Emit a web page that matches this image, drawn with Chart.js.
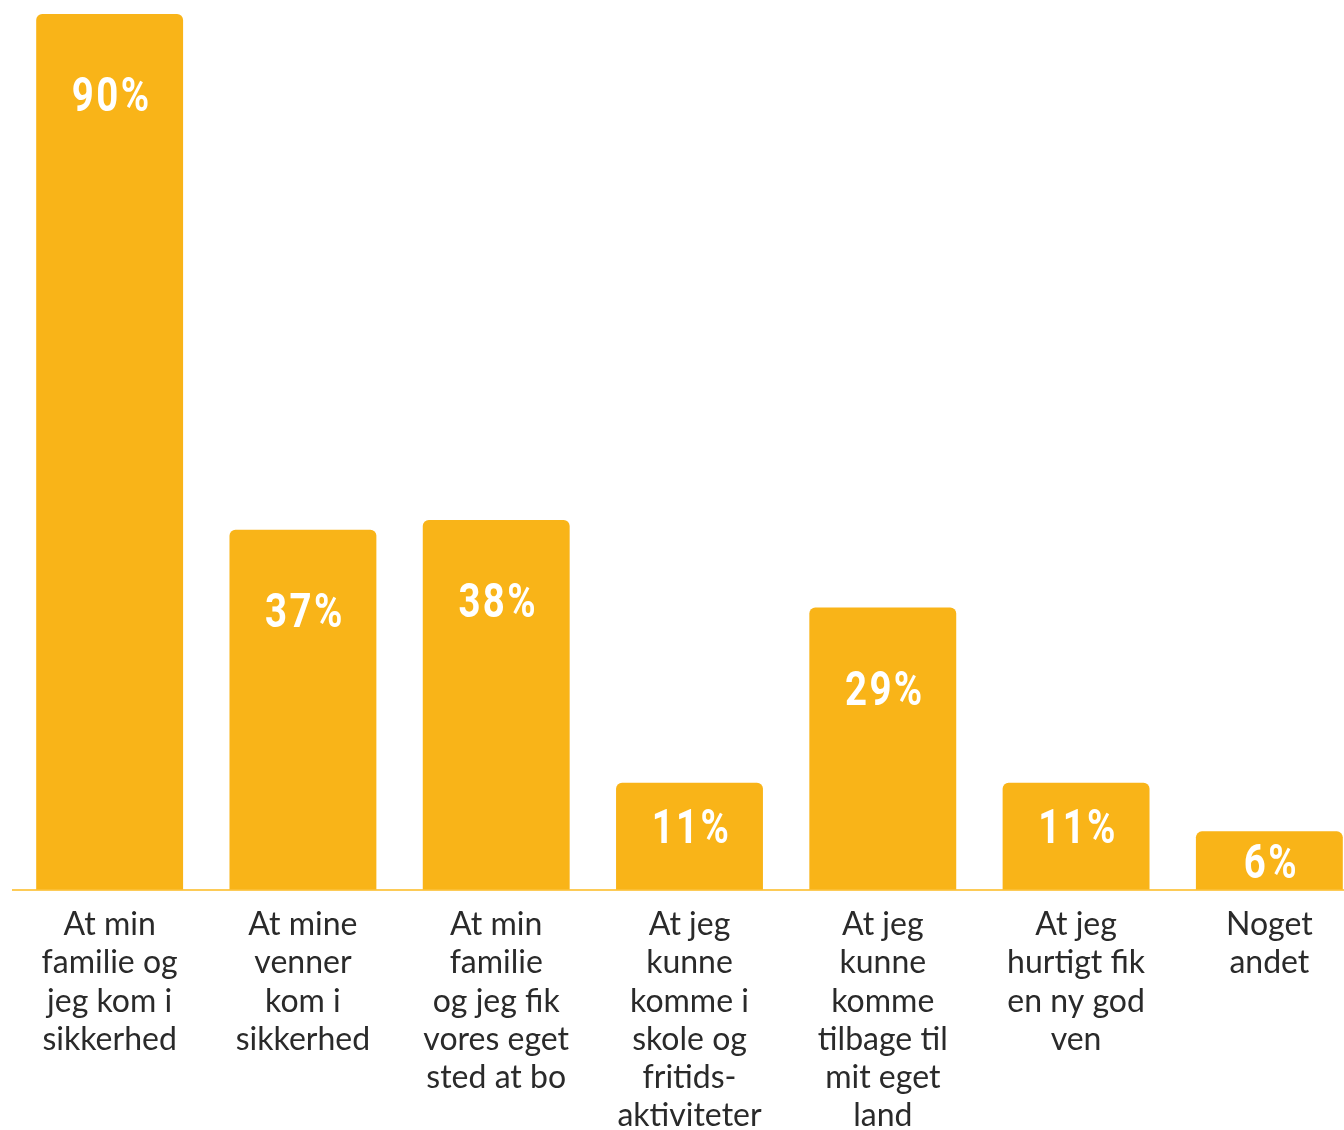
<!DOCTYPE html>
<html>
<head>
<meta charset="utf-8">
<script src="https://cdn.jsdelivr.net/npm/chart.js@4.4.1/dist/chart.umd.min.js"></script>
<style>
  html, body { margin: 0; padding: 0; background: #fff; overflow: hidden; }
  #wrap { width: 1366px; height: 1151px; position: relative; }
</style>
</head>
<body>
<div id="wrap"><canvas id="grafico"></canvas></div>
<script>
const kategorier = [
    ['At min', 'familie og', 'jeg kom i', 'sikkerhed'],
    ['At mine', 'venner', 'kom i', 'sikkerhed'],
    ['At min', 'familie', 'og jeg fik', 'vores eget', 'sted at bo'],
    ['At jeg', 'kunne', 'komme i', 'skole og', 'fritids-', 'aktiviteter'],
    ['At jeg', 'kunne', 'komme', 'tilbage til', 'mit eget', 'land'],
    ['At jeg', 'hurtigt fik', 'en ny god', 'ven'],
    ['Noget', 'andet']
];
const procenter = [90, 37, 38, 11, 29, 11, 6];

const gul = '#F9B418';
const linjeGul = '#FDCB57';

// skriver procenten inde i hver søjle (smal, fed skrift)
const procentTekst = {
    id: 'procentTekst',
    afterDatasetsDraw(chart) {
        const ctx = chart.ctx;
        const meta = chart.getDatasetMeta(0);
        ctx.save();
        ctx.fillStyle = '#ffffff';
        ctx.font = "bold 48px Roboto, 'DejaVu Sans', sans-serif";
        ctx.textAlign = 'center';
        ctx.textBaseline = 'alphabetic';
        if ('letterSpacing' in ctx) ctx.letterSpacing = '3px';
        const sx = 0.8;
        meta.data.forEach((bar, i) => {
            const hoejde = bar.base - bar.y;
            const afstand = Math.min(80, Math.max(30, hoejde * 0.4));
            ctx.save();
            ctx.translate(bar.x + 2, bar.y + afstand + 17);
            ctx.scale(sx, 1);
            ctx.fillText(procenter[i] + '%', 0, 0);
            ctx.restore();
        });
        ctx.restore();
    }
};

new Chart(document.getElementById('grafico').getContext('2d'), {
    type: 'bar',
    data: {
        labels: kategorier,
        datasets: [{
            data: procenter,
            backgroundColor: gul,
            borderRadius: 6,
            borderSkipped: 'start',
            barPercentage: 0.76,
            categoryPercentage: 1
        }]
    },
    options: {
        responsive: true,
        maintainAspectRatio: false,
        animation: false,
        layout: { padding: { top: 14, left: 13, right: 0, bottom: 0 } },
        plugins: {
            legend: { display: false },
            tooltip: { enabled: false }
        },
        scales: {
            x: {
                grid: { display: false, drawTicks: false },
                border: { display: true, color: linjeGul, width: 2 },
                ticks: {
                    color: '#2a2a2a',
                    padding: 16,
                    maxRotation: 0,
                    autoSkip: false,
                    font: { family: 'Lato', size: 32, lineHeight: 1.194 }
                }
            },
            y: {
                display: false,
                min: 0,
                max: 90
            }
        }
    },
    plugins: [procentTekst]
});
</script>
</body>
</html>
